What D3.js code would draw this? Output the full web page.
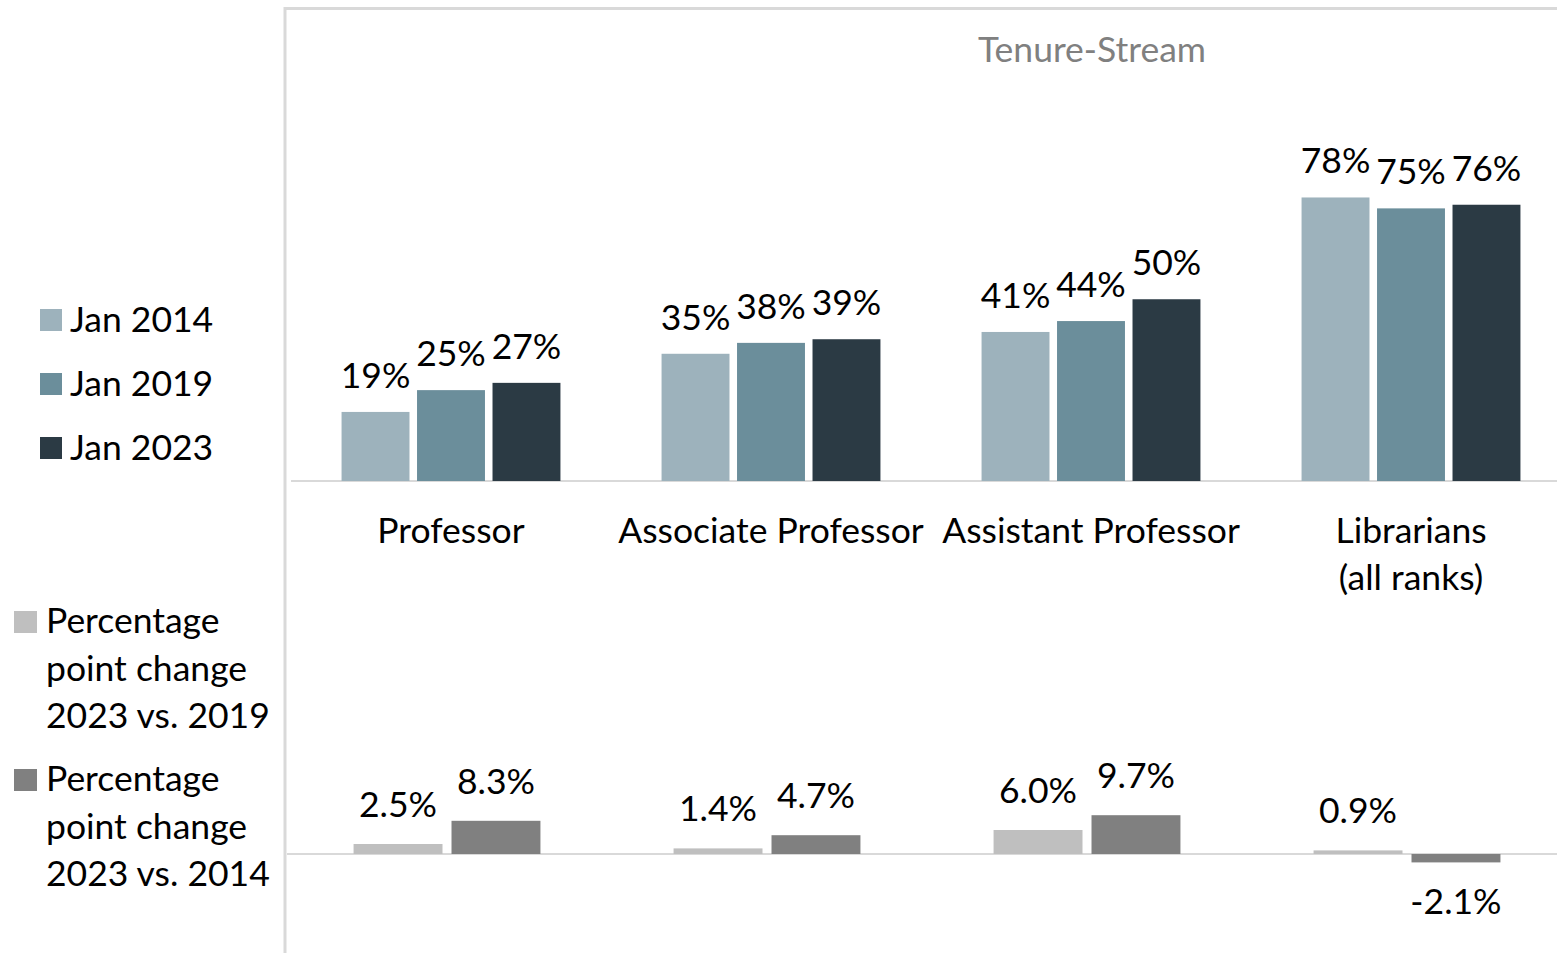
<!DOCTYPE html>
<html>
<head>
<meta charset="utf-8">
<script src="https://cdn.jsdelivr.net/npm/d3@7"></script>
<style>
  body { margin: 0; background: #fff; }
  text { font-family: Lato, "Open Sans", sans-serif; fill: #000; }
</style>
</head>
<body>
<div class="canvas"></div>
<script>
//DATA
var categories = ["Professor", "Associate Professor", "Assistant Professor", "Librarians\n(all ranks)"];
var seriesNames = ["Jan 2014", "Jan 2019", "Jan 2023"];
var jan2014 = [19, 35, 41, 78];
var jan2019 = [25, 38, 44, 75];
var jan2023 = [27, 39, 50, 76];
var changeNames = ["Percentage\npoint change\n2023 vs. 2019", "Percentage\npoint change\n2023 vs. 2014"];
var change2019 = [2.5, 1.4, 6.0, 0.9];
var change2014 = [8.3, 4.7, 9.7, -2.1];
var title = "Tenure-Stream";

//VIZ DIMENSIONS
var w = 1557, h = 953;
var topBase = 481, botBase = 854;
var fontSize = 35.5;

var topColors = ["#9db2bc", "#6b8e9b", "#2b3a44"];
var botColors = ["#bfbfbf", "#808080"];

var svg = d3.select('.canvas').append('svg')
    .attr('width', w)
    .attr('height', h);

//FRAME
svg.append('path')
    .attr('d', 'M285,' + (h + 5) + 'V8.5H' + (w + 5))
    .attr('fill', 'none')
    .attr('stroke', '#d9d9d9')
    .attr('stroke-width', 3);

//TITLE
svg.append('text')
    .attr('x', 1092)
    .attr('y', 62)
    .attr('text-anchor', 'middle')
    .style('font-size', fontSize + 'px')
    .style('fill', '#808080')
    .text(title);

//TOP CHART - SCALES
var topSeries = [jan2014, jan2019, jan2023];
var x0 = d3.scaleBand()
    .domain(categories)
    .range([291, 1571])
    .paddingInner(0.316)
    .paddingOuter(0.158);
var x1 = d3.scaleBand()
    .domain(d3.range(3))
    .range([0, x0.bandwidth()])
    .paddingInner(0.1);
var yTop = d3.scaleLinear()
    .domain([0, 80])
    .range([topBase, topBase - 80 * 3.635]);

var topRows = [];
categories.forEach(function(c, i){
    topSeries.forEach(function(s, j){
        topRows.push({cat: c, s: j, v: s[i]});
    });
});

svg.append('line')
    .attr('x1', 291).attr('x2', w)
    .attr('y1', topBase).attr('y2', topBase)
    .attr('stroke', '#d9d9d9')
    .attr('stroke-width', 2);

svg.append('g')
    .selectAll('rect')
    .data(topRows)
    .enter().append('rect')
        .attr('x', d => x0(d.cat) + x1(d.s))
        .attr('y', d => yTop(d.v))
        .attr('width', x1.bandwidth())
        .attr('height', d => yTop(0) - yTop(d.v))
        .attr('fill', d => topColors[d.s]);

svg.append('g')
    .selectAll('text')
    .data(topRows)
    .enter().append('text')
        .attr('x', d => x0(d.cat) + x1(d.s) + x1.bandwidth() / 2)
        .attr('y', d => yTop(d.v) - 24)
        .attr('text-anchor', 'middle')
        .style('font-size', fontSize + 'px')
        .text(d => d.v + '%');

//CATEGORY LABELS
var catLabels = svg.append('g')
    .selectAll('text')
    .data(categories)
    .enter().append('text')
        .attr('x', d => x0(d) + x0.bandwidth() / 2)
        .attr('y', 543)
        .attr('text-anchor', 'middle')
        .style('font-size', fontSize + 'px');
catLabels.selectAll('tspan')
    .data(d => d.split('\n'))
    .enter().append('tspan')
        .attr('x', function(){ return d3.select(this.parentNode).attr('x'); })
        .attr('dy', (d, i) => i === 0 ? 0 : 47)
        .text(d => d);

//BOTTOM CHART - SCALES
var botSeries = [change2019, change2014];
var x0b = d3.scaleBand()
    .domain(categories)
    .range([287, 1567])
    .paddingInner(0.416)
    .paddingOuter(0.208);
var x1b = d3.scaleBand()
    .domain(d3.range(2))
    .range([0, x0b.bandwidth()])
    .paddingInner(0.092);
var yBot = d3.scaleLinear()
    .domain([-3, 10])
    .range([botBase + 12, botBase - 40]);

var botRows = [];
categories.forEach(function(c, i){
    botSeries.forEach(function(s, j){
        botRows.push({cat: c, s: j, v: s[i]});
    });
});

svg.append('line')
    .attr('x1', 287).attr('x2', w)
    .attr('y1', botBase).attr('y2', botBase)
    .attr('stroke', '#d9d9d9')
    .attr('stroke-width', 2);

svg.append('g')
    .selectAll('rect')
    .data(botRows)
    .enter().append('rect')
        .attr('x', d => x0b(d.cat) + x1b(d.s))
        .attr('y', d => yBot(Math.max(0, d.v)))
        .attr('width', x1b.bandwidth())
        .attr('height', d => Math.abs(yBot(d.v) - yBot(0)))
        .attr('fill', d => botColors[d.s]);

svg.append('g')
    .selectAll('text')
    .data(botRows)
    .enter().append('text')
        .attr('x', d => x0b(d.cat) + x1b(d.s) + x1b.bandwidth() / 2)
        .attr('y', d => d.v >= 0 ? yBot(d.v) - 27 : yBot(d.v) + 52)
        .attr('text-anchor', 'middle')
        .style('font-size', fontSize + 'px')
        .text(d => d.v.toFixed(1) + '%');

//LEGEND - TOP
var legTop = svg.append('g')
    .selectAll('g')
    .data(seriesNames)
    .enter().append('g')
        .attr('transform', (d, i) => 'translate(40,' + (309 + i * 64) + ')');
legTop.append('rect')
    .attr('width', 22).attr('height', 22)
    .attr('fill', (d, i) => topColors[i]);
legTop.append('text')
    .attr('x', 30)
    .attr('y', 23)
    .style('font-size', fontSize + 'px')
    .text(d => d);

//LEGEND - BOTTOM
var legBot = svg.append('g')
    .selectAll('g')
    .data(changeNames)
    .enter().append('g')
        .attr('transform', (d, i) => 'translate(14,' + (611 + i * 158) + ')');
legBot.append('rect')
    .attr('width', 23).attr('height', 22)
    .attr('fill', (d, i) => botColors[i]);
var legBotText = legBot.append('text')
    .attr('x', 32)
    .attr('y', 22)
    .style('font-size', fontSize + 'px');
legBotText.selectAll('tspan')
    .data(d => d.split('\n'))
    .enter().append('tspan')
        .attr('x', 32)
        .attr('dy', (d, i) => i === 0 ? 0 : 47.5)
        .text(d => d);
</script>
</body>
</html>
